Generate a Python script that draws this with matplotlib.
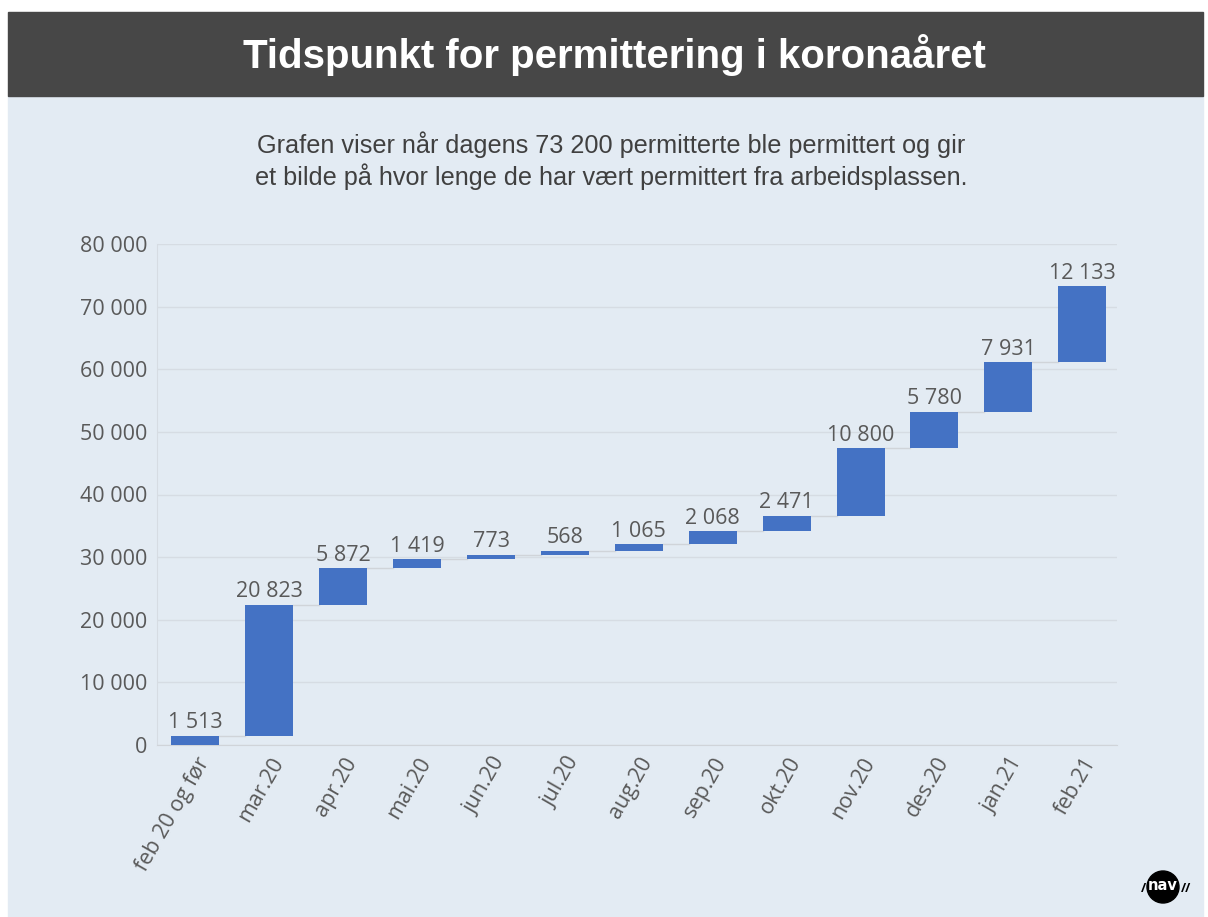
import matplotlib
matplotlib.use("Agg")
import matplotlib.pyplot as plt
import numpy as np
from matplotlib.patches import Rectangle, Circle
from matplotlib.ticker import FuncFormatter

matplotlib.rcParams["font.family"] = ["Open Sans", "DejaVu Sans"]

categories = ["feb 20 og før", "mar.20", "apr.20", "mai.20", "jun.20", "jul.20",
              "aug.20", "sep.20", "okt.20", "nov.20", "des.20", "jan.21", "feb.21"]
values = [1513, 20823, 5872, 1419, 773, 568, 1065, 2068, 2471, 10800, 5780, 7931, 12133]

BG = "#E3EBF3"
BAR = "#4472C4"
GREY = "#595959"


def fmt(v):
    return f"{int(v):,}".replace(",", " ")


fig = plt.figure(figsize=(12.08, 9.17), dpi=100)
fig.patch.set_facecolor("white")

# bakgrunn og toppfelt
fig.patches.append(Rectangle((8 / 1208, 0), 1195 / 1208, 1 - 96 / 917,
                             transform=fig.transFigure, color=BG, zorder=-10))
fig.patches.append(Rectangle((8 / 1208, 1 - 96 / 917), 1195 / 1208, 84 / 917,
                             transform=fig.transFigure, color="#474747", zorder=-10))
fig.text(0.509, 1 - 55 / 917, "Tidspunkt for permittering i koronaåret",
         ha="center", va="center", color="white", fontsize=29, fontweight="bold",
         family=["Liberation Sans", "DejaVu Sans"])
fig.text(0.506, 1 - 161 / 917,
         "Grafen viser når dagens 73 200 permitterte ble permittert og gir\n"
         "et bilde på hvor lenge de har vært permittert fra arbeidsplassen.",
         ha="center", va="center", color="#404040", fontsize=18.2, linespacing=1.25,
         family=["Liberation Sans", "DejaVu Sans"])

ax = fig.add_axes([157 / 1208, 1 - 745 / 917, 960 / 1208, 501 / 917])
ax.set_facecolor(BG)

x = np.arange(len(categories))
vals = np.array(values)
cum = np.cumsum(vals)
bottoms = cum - vals
width = 0.65

ax.bar(x, vals, bottom=bottoms, width=width, color=BAR, zorder=3)

# koblingslinjer
for i in range(len(x) - 1):
    ax.plot([x[i] + width / 2, x[i + 1] - width / 2], [cum[i], cum[i]],
            color="#D0D4D9", lw=1, zorder=2)

for xi, top, v in zip(x, cum, vals):
    ax.annotate(fmt(v), (xi, top), xytext=(0, 2), textcoords="offset points",
                ha="center", va="bottom", fontsize=15.5, color=GREY, zorder=4)

ax.set_xlim(-0.52, 12.47)
ax.set_ylim(0, 80000)
ax.set_yticks(np.arange(0, 80001, 10000))
ax.yaxis.set_major_formatter(FuncFormatter(lambda v, p: fmt(v)))
ax.grid(axis="y", color="#D6DCE3", lw=1, zorder=1)
ax.set_axisbelow(True)

ax.set_xticks(x)
ax.set_xticklabels(categories, rotation=60, ha="right", rotation_mode="anchor")
ax.tick_params(axis="both", length=0, labelsize=15.5, labelcolor=GREY)
ax.tick_params(axis="y", pad=7)
ax.tick_params(axis="x", pad=6)

for s in ["top", "right"]:
    ax.spines[s].set_visible(False)
ax.spines["left"].set_color("#D6DCE3")
ax.spines["bottom"].set_color("#D0D4D9")

# NAV-logo
logo = fig.add_axes([1128 / 1208, 1 - 907 / 917, 70 / 1208, 40 / 917])
logo.set_xlim(0, 70)
logo.set_ylim(0, 40)
logo.set_aspect("equal")
logo.axis("off")
logo.add_patch(Circle((35, 20), 16, color="black"))
logo.text(35, 21, "nav", ha="center", va="center", color="white",
          fontsize=10.5, fontweight="bold", family=["DejaVu Sans"])
logo.text(15, 19, "/", ha="center", va="center", color="black", fontsize=9, fontweight="bold")
logo.text(58, 19, "//", ha="center", va="center", color="black", fontsize=9, fontweight="bold")

fig.savefig("out.png", dpi=100, facecolor=fig.get_facecolor())
